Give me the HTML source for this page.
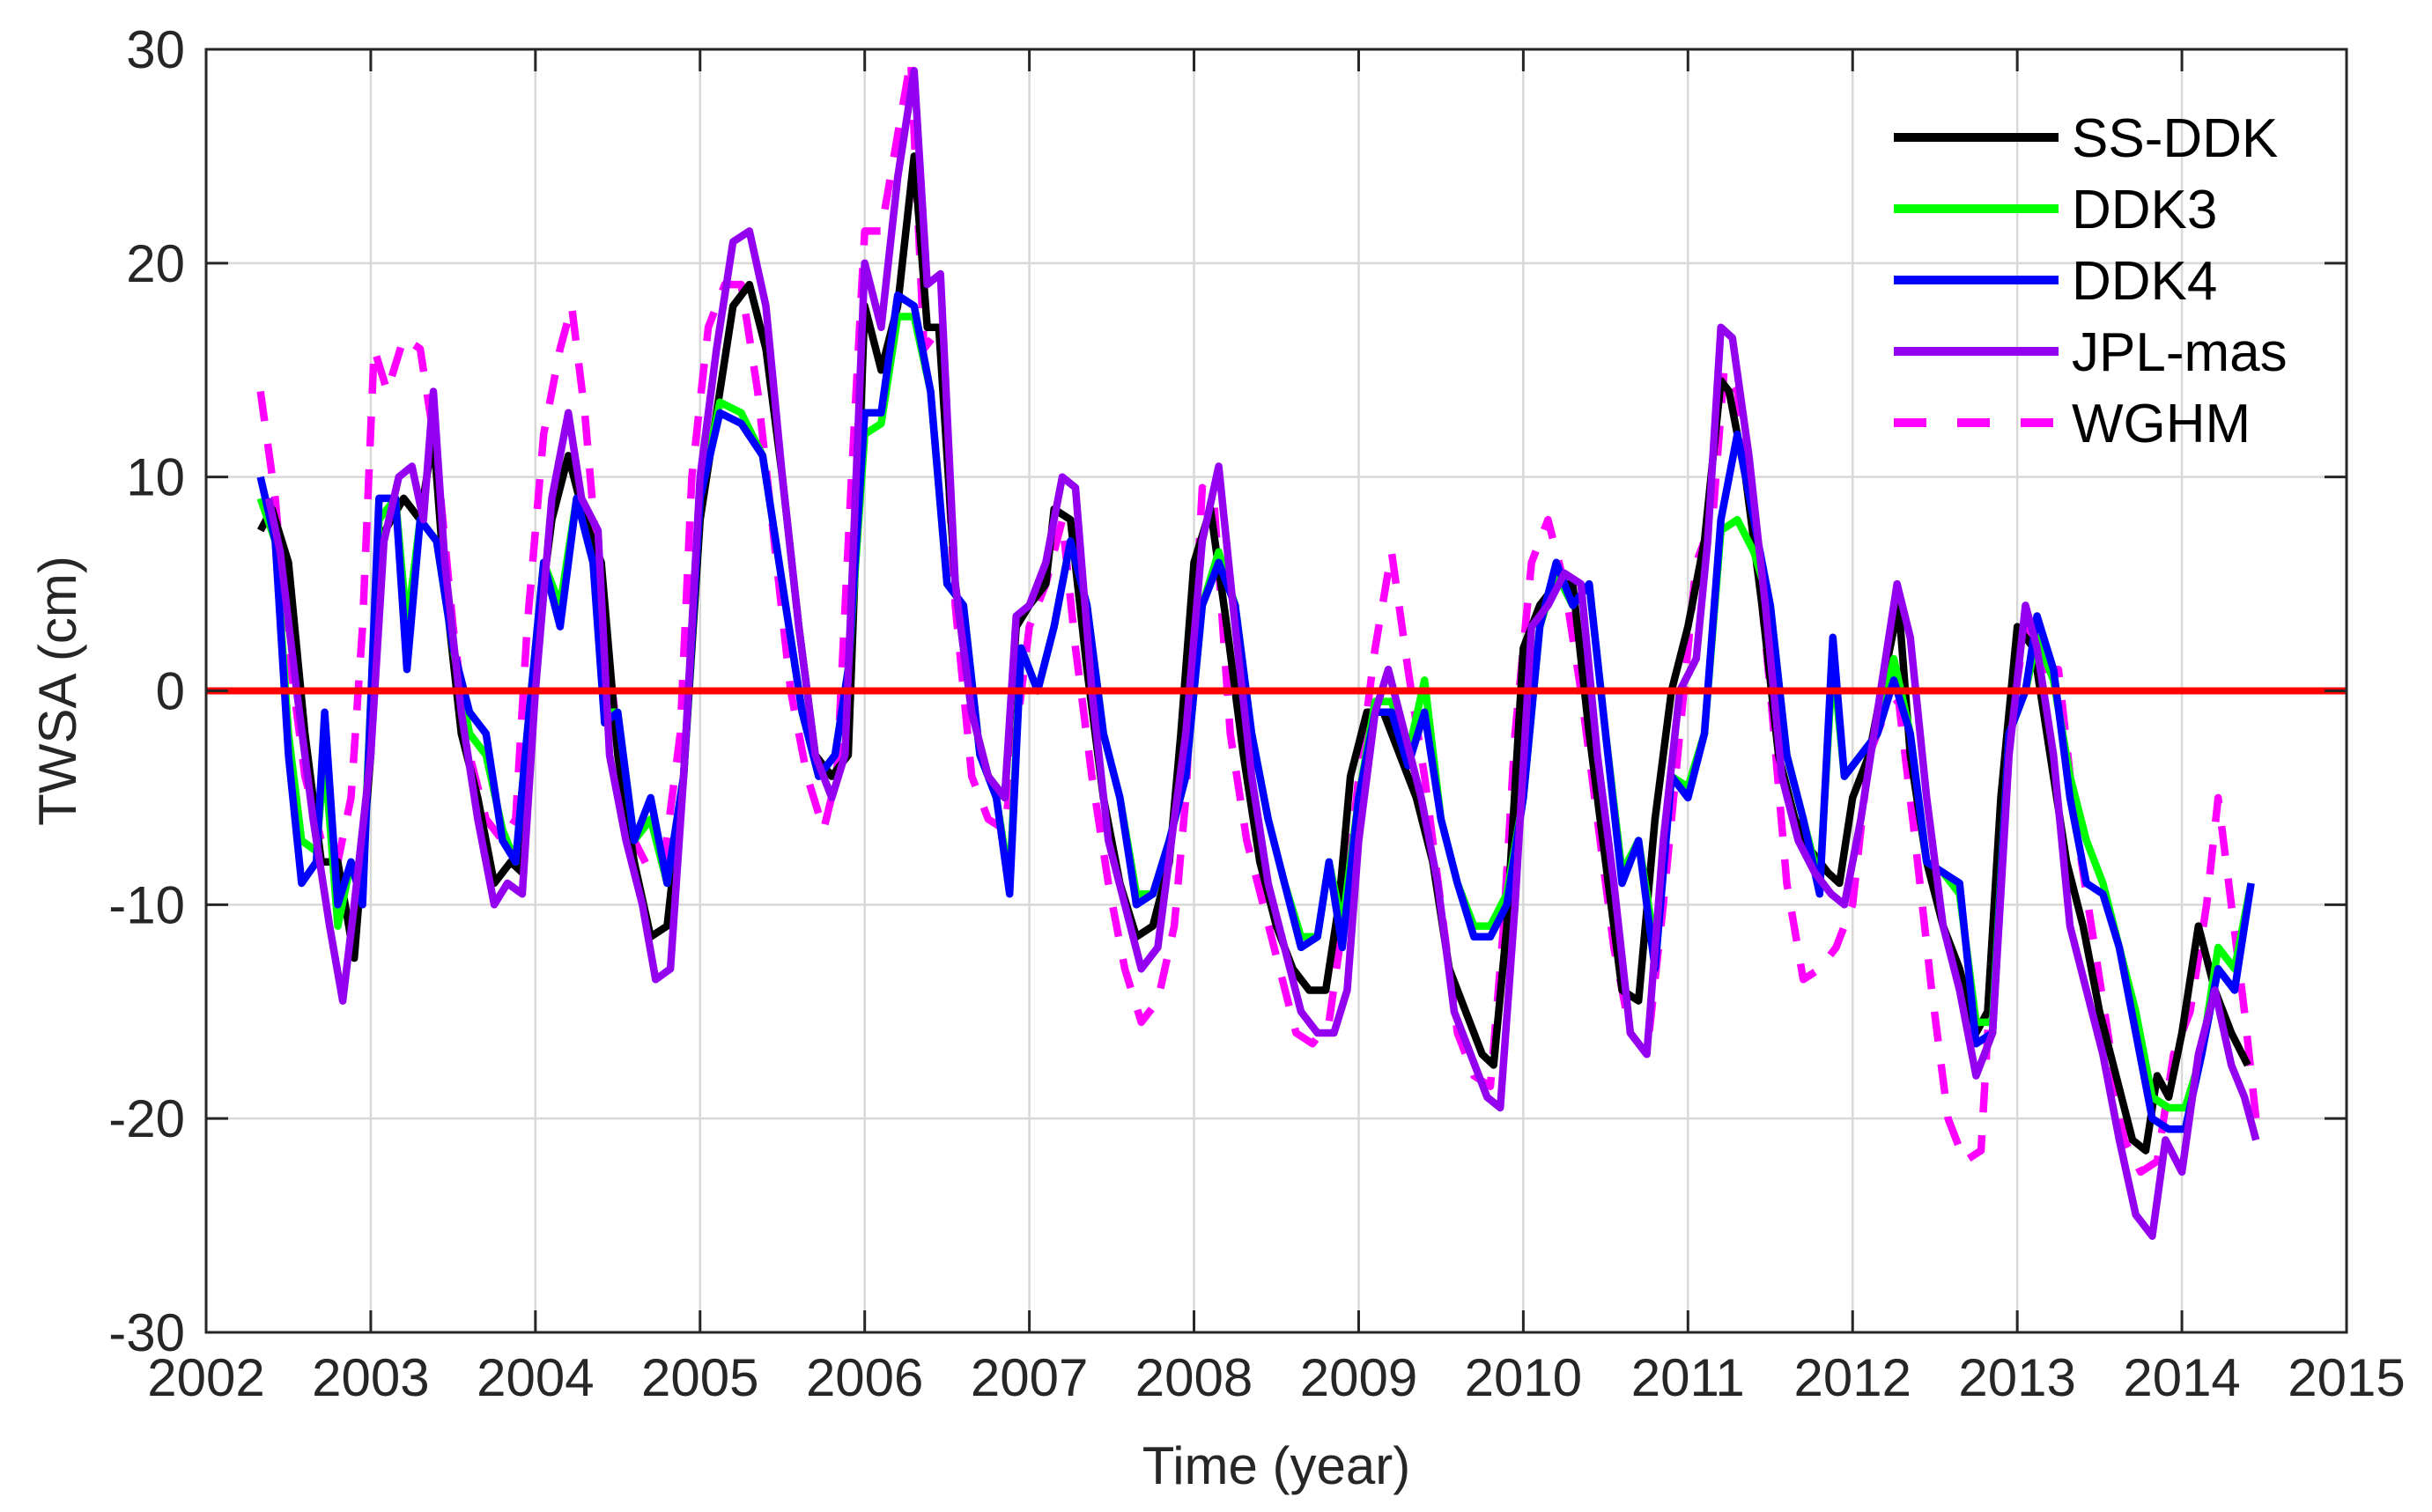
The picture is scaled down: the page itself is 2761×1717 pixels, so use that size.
<!DOCTYPE html>
<html><head><meta charset="utf-8"><style>
html,body{margin:0;padding:0;background:#fff;}
svg{display:block;font-family:"Liberation Sans",Arial,sans-serif;}
</style></head><body>
<svg id="chart" width="2761" height="1717" viewBox="0 0 2761 1717">
<g id="grid"></g>
<g id="series"></g>
<g id="axes"></g>
<g id="legend"></g>
</svg>
<script>
const xTicks=[2002,2003,2004,2005,2006,2007,2008,2009,2010,2011,2012,2013,2014,2015];
const yTicks=[-30,-20,-10,0,10,20,30];
const ssT=[2002.33,2002.4,2002.5,2002.6,2002.7,2002.8,2002.9,2003.0,2003.05,2003.2,2003.3,2003.38,2003.45,2003.55,2003.65,2003.75,2003.85,2003.92,2004.0,2004.1,2004.2,2004.3,2004.4,2004.5,2004.6,2004.7,2004.8,2004.9,2005.0,2005.1,2005.2,2005.3,2005.4,2005.5,2005.6,2005.7,2005.8,2005.9,2006.0,2006.1,2006.2,2006.3,2006.38,2006.45,2006.55,2006.65,2006.75,2006.85,2006.92,2007.0,2007.1,2007.15,2007.25,2007.35,2007.45,2007.55,2007.65,2007.75,2007.85,2007.92,2008.0,2008.1,2008.2,2008.3,2008.4,2008.5,2008.6,2008.7,2008.8,2008.88,2008.95,2009.05,2009.15,2009.25,2009.35,2009.45,2009.55,2009.65,2009.75,2009.82,2009.9,2010.0,2010.1,2010.2,2010.3,2010.4,2010.5,2010.6,2010.7,2010.8,2010.9,2011.0,2011.1,2011.2,2011.25,2011.35,2011.45,2011.55,2011.65,2011.75,2011.85,2011.92,2012.0,2012.1,2012.2,2012.28,2012.35,2012.45,2012.55,2012.65,2012.75,2012.82,2012.9,2013.0,2013.1,2013.2,2013.3,2013.4,2013.5,2013.6,2013.7,2013.78,2013.85,2013.92,2014.0,2014.1,2014.2,2014.3,2014.4];
const ssV=[7.5,8.5,6,-2,-8,-8,-12.5,-3,7,9,8,12,5,-2,-5,-9,-8,-8.5,2,8,11,8,6,-3,-8,-11.5,-11,-4,8,13,18,19,16,10,3,-3,-4,-3,18,15,18,25,17,17,5,-1,-4,-5,3,4,5,8.5,8,1,-5,-9,-11.5,-11,-8,-2,6,8.5,3,-3,-8,-11,-13,-14,-14,-10,-4,-1,-1,-3,-5,-8,-13,-15,-17,-17.5,-11,2,4,5,5,-2,-8,-14,-14.5,-6,0,3,7,14.5,14,10,4,-3,-6,-7.5,-8.5,-9,-5,-3,1,4,-3,-8,-11,-13,-16,-15,-5,3,2,-3,-8,-11,-15,-18,-21,-21.5,-18,-19,-16,-11,-14,-16,-17.5];
const d4T=[2002.33,2002.42,2002.5,2002.58,2002.67,2002.72,2002.8,2002.88,2002.95,2003.05,2003.15,2003.22,2003.3,2003.4,2003.5,2003.6,2003.7,2003.8,2003.88,2003.95,2004.05,2004.15,2004.25,2004.35,2004.42,2004.5,2004.6,2004.7,2004.8,2004.9,2005.0,2005.12,2005.25,2005.38,2005.5,2005.62,2005.72,2005.82,2005.9,2006.0,2006.1,2006.2,2006.3,2006.4,2006.5,2006.6,2006.7,2006.8,2006.88,2006.95,2007.05,2007.15,2007.25,2007.35,2007.45,2007.55,2007.65,2007.75,2007.85,2007.95,2008.05,2008.15,2008.25,2008.35,2008.45,2008.55,2008.65,2008.75,2008.82,2008.9,2009.0,2009.1,2009.2,2009.3,2009.4,2009.5,2009.6,2009.7,2009.8,2009.9,2010.0,2010.1,2010.2,2010.3,2010.4,2010.5,2010.6,2010.7,2010.8,2010.9,2011.0,2011.1,2011.2,2011.3,2011.4,2011.5,2011.6,2011.7,2011.8,2011.88,2011.95,2012.05,2012.15,2012.25,2012.35,2012.45,2012.55,2012.65,2012.75,2012.85,2012.95,2013.05,2013.12,2013.22,2013.32,2013.42,2013.52,2013.62,2013.72,2013.82,2013.92,2014.02,2014.12,2014.22,2014.32,2014.42];
const d4V=[10,7,-3,-9,-8,-1,-10,-8,-10,9,9,1,8,7,2,-1,-2,-7,-8,-2,6,3,9,6,-1.5,-1,-7,-5,-9,-4,9,13,12.5,11,5,-1,-4,-3,1,13,13,18.5,18,14,5,4,-3,-5,-9.5,2,0,3,7,4,-2,-5,-10,-9.5,-7,-4,4,6,4,-2,-6,-9,-12,-11.5,-8,-12,-5,-1,-1,-3.5,-1,-6,-9,-11.5,-11.5,-10,-5,3,6,4,5,-2,-9,-7,-13,-4,-5,-2,8,12,8,4,-3,-6,-9.5,2.5,-4,-3,-2,0.5,-2,-8,-8.5,-9,-16.5,-16,-2,0,3.5,1,-5,-9,-9.5,-12,-16,-20,-20.5,-20.5,-17,-13,-14,-9];
const d3T=d4T.slice();
const d3V=[9,7,-2,-7,-7.5,-3,-11,-8,-9,8,9,3,8,7,2,-2,-3,-6.5,-8,-2,6,4,9,6,-1,-1,-7,-6,-9,-4,9,13.5,13,11,5,-1,-4,-3,1,12,12.5,17.5,17.5,14,5,4,-3,-5,-9,2,0,3,7,4,-2,-5,-9.5,-9.5,-7,-4,4,6.5,4,-2,-6,-9,-11.5,-11.5,-8,-11,-5,-0.5,-0.5,-3,0.5,-6,-9,-11,-11,-9.5,-5,3,5.5,4,5,-2,-8.5,-7,-12,-4,-4.5,-2,7.5,8,6.5,4,-3,-6,-9,1.5,-4,-3,-2,1.5,-2,-8,-8.5,-9.5,-15.5,-15.5,-2,0,2.5,0.5,-4,-7,-9,-12,-15,-19,-19.5,-19.5,-17,-12,-13,-9];
const jpT=[2002.38,2002.45,2002.55,2002.65,2002.75,2002.83,2002.9,2003.0,2003.08,2003.17,2003.25,2003.32,2003.38,2003.45,2003.55,2003.65,2003.75,2003.83,2003.92,2004.0,2004.1,2004.2,2004.28,2004.38,2004.45,2004.55,2004.65,2004.73,2004.82,2004.9,2005.0,2005.1,2005.2,2005.3,2005.4,2005.5,2005.6,2005.7,2005.8,2005.88,2006.0,2006.1,2006.2,2006.3,2006.38,2006.46,2006.55,2006.65,2006.75,2006.85,2006.92,2007.0,2007.1,2007.2,2007.28,2007.38,2007.48,2007.58,2007.68,2007.78,2007.88,2007.95,2008.05,2008.15,2008.25,2008.35,2008.45,2008.55,2008.65,2008.75,2008.85,2008.93,2009.0,2009.1,2009.18,2009.28,2009.38,2009.48,2009.58,2009.68,2009.78,2009.86,2009.95,2010.05,2010.15,2010.25,2010.35,2010.45,2010.55,2010.65,2010.75,2010.85,2010.95,2011.05,2011.12,2011.2,2011.27,2011.37,2011.47,2011.57,2011.67,2011.77,2011.87,2011.95,2012.05,2012.15,2012.27,2012.35,2012.45,2012.55,2012.65,2012.75,2012.85,2012.95,2013.05,2013.12,2013.22,2013.32,2013.42,2013.52,2013.62,2013.72,2013.82,2013.9,2014.0,2014.1,2014.2,2014.3,2014.38,2014.45];
const jpV=[9,6.5,0,-6,-11,-14.5,-10,-3,7,10,10.5,8,14,6,-1,-6,-10,-9,-9.5,0,9,13,9,7.5,-3,-7,-10,-13.5,-13,-4,10,16,21,21.5,18,10,3,-3,-5,-3,20,17,24,29,19,19.5,5,-1,-4,-5,3.5,4,6,10,9.5,0,-7,-10,-13,-12,-6,-2,7,10.5,3,-4,-9,-12,-15,-16,-16,-14,-7,-1,1,-2,-5,-9,-15,-17,-19,-19.5,-10,3,4,5.5,5,-3,-9,-16,-17,-7,0,1.5,7,17,16.5,11,4,-4,-7,-8.5,-9.5,-10,-6,-1,5,2.5,-5,-11,-14,-18,-16,-3,4,2,-3,-11,-14,-17,-21,-24.5,-25.5,-21,-22.5,-17,-14,-17.5,-19,-21];
const wgT=[2002.33,2002.42,2002.5,2002.6,2002.7,2002.8,2002.88,2002.95,2003.02,2003.1,2003.2,2003.3,2003.4,2003.5,2003.6,2003.7,2003.8,2003.88,2003.95,2004.05,2004.15,2004.22,2004.3,2004.4,2004.5,2004.6,2004.7,2004.78,2004.88,2004.95,2005.05,2005.15,2005.25,2005.35,2005.45,2005.55,2005.65,2005.75,2005.83,2005.92,2006.0,2006.1,2006.2,2006.28,2006.36,2006.46,2006.55,2006.65,2006.75,2006.85,2006.92,2007.0,2007.1,2007.2,2007.28,2007.38,2007.48,2007.58,2007.68,2007.78,2007.88,2007.95,2008.05,2008.12,2008.22,2008.32,2008.42,2008.52,2008.62,2008.72,2008.82,2008.92,2009.0,2009.1,2009.2,2009.3,2009.4,2009.5,2009.6,2009.7,2009.8,2009.88,2009.95,2010.05,2010.15,2010.25,2010.35,2010.45,2010.55,2010.65,2010.75,2010.85,2010.95,2011.05,2011.15,2011.22,2011.3,2011.4,2011.5,2011.6,2011.7,2011.8,2011.9,2012.0,2012.1,2012.2,2012.28,2012.38,2012.48,2012.58,2012.68,2012.78,2012.88,2012.95,2013.05,2013.15,2013.25,2013.35,2013.45,2013.55,2013.65,2013.75,2013.85,2013.95,2014.05,2014.15,2014.22,2014.3,2014.38,2014.45];
const wgV=[14,9,2,-4,-7,-8,-5,3,16,14,16.5,16,11,3,-3,-6,-7,-6,3,12,16,18,13,4,-2,-7,-8.5,-8,-2,10,17,19,19,14,7,0,-4,-6.5,-4,10,21.5,21.5,26,29.5,16,17,4,-4,-6,-6.5,-2,3,5,8,2,-4,-9,-13,-15.5,-14.5,-11,-5,9.5,9,-2,-7,-10,-13,-16,-16.5,-15.5,-10,-4,2,6.5,1,-4,-10,-16,-18,-18.5,-11,-2,6,8,5,0,-6,-12,-16,-17,-10,-2,6,8,15,14,8,0,-9,-13.5,-13,-12,-10,-3,-1,-0.5,-7,-14,-20,-22,-21.5,-8,-2,3,1,1,-6,-11,-16,-21,-22.5,-22,-17,-15,-10,-5,-10,-15,-20];

const L=234,R=2664,T=56,B=1513;
const x=v=>L+(v-2002)/13*(R-L);
const y=v=>B-(v+30)/60*(B-T);
const NS="http://www.w3.org/2000/svg";
function mk(tag,parent,attrs){const e=document.createElementNS(NS,tag);for(const k in attrs)e.setAttribute(k,attrs[k]);parent.appendChild(e);return e;}
const grid=document.getElementById('grid'),axes=document.getElementById('axes'),ser=document.getElementById('series'),leg=document.getElementById('legend');
mk('rect',grid,{x:L,y:T,width:R-L,height:B-T,fill:'#fff'});
xTicks.forEach(t=>{
  const g=mk('line',grid,{x1:x(t),x2:x(t),y1:T,y2:B,stroke:'#d8d8d8','stroke-width':2.5});
  
  
  mk('line',axes,{x1:x(t),x2:x(t),y1:B,y2:B-25,stroke:'#262626','stroke-width':3});
  mk('line',axes,{x1:x(t),x2:x(t),y1:T,y2:T+25,stroke:'#262626','stroke-width':3});
  const tx=mk('text',axes,{x:x(t),y:B+72,'text-anchor':'middle','font-size':60,fill:'#262626'});
  tx.textContent=t;
  
  
});
yTicks.forEach(t=>{
  const g=mk('line',grid,{x1:L,x2:R,y1:y(t),y2:y(t),stroke:'#d8d8d8','stroke-width':2.5});
  
  
  mk('line',axes,{x1:L,x2:L+25,y1:y(t),y2:y(t),stroke:'#262626','stroke-width':3});
  mk('line',axes,{x1:R,x2:R-25,y1:y(t),y2:y(t),stroke:'#262626','stroke-width':3});
  const tx=mk('text',axes,{x:L-24,y:y(t)+21,'text-anchor':'end','font-size':60,fill:'#262626'});
  tx.textContent=t;
  
  
});
const frame=mk('rect',axes,{x:L,y:T,width:R-L,height:B-T,fill:'none',stroke:'#262626','stroke-width':3});


const xt=mk('text',axes,{x:(L+R)/2,y:1685,'text-anchor':'middle','font-size':60,fill:'#262626'});
xt.textContent='Time (year)';


const yt=mk('text',axes,{x:0,y:0,'text-anchor':'middle','font-size':60,fill:'#262626',transform:`translate(86,${(T+B)/2}) rotate(-90)`});
yt.textContent='TWSA (cm)';



function line(ts,vs,color,dash,name){
  const d=ts.map((t,i)=>(i?'L':'M')+x(t).toFixed(1)+','+y(vs[i]).toFixed(1)).join('');
  const p=mk('path',ser,{d:d,fill:'none',stroke:color,'stroke-width':8.5,'stroke-linejoin':'round'});
  if(dash)p.setAttribute('stroke-dasharray',dash);
  
  
}
line(wgT,wgV,'#ff00ff','34,26','wghm-line');
line(ssT,ssV,'#000000',null,'ss-ddk-line');
line(d3T,d3V,'#00ff00',null,'ddk3-line');
line(d4T,d4V,'#0000ff',null,'ddk4-line');
line(jpT,jpV,'#9400f0',null,'jpl-mas-line');
const zl=mk('line',ser,{x1:L,x2:R,y1:y(0),y2:y(0),stroke:'#ff0000','stroke-width':8});



const legItems=[['SS-DDK','#000',null],['DDK3','#00ff00',null],['DDK4','#0000ff',null],['JPL-mas','#9400f0',null],['WGHM','#ff00ff','37,35']];
legItems.forEach((it,i)=>{
  const yy=156+i*81;
  const l=mk('line',leg,{x1:2150,x2:2337,y1:yy,y2:yy,stroke:it[1],'stroke-width':10});
  if(it[2])l.setAttribute('stroke-dasharray',it[2]);
  
  
  const t=mk('text',leg,{x:2352,y:yy+22,'font-size':62,fill:'#000'});
  t.textContent=it[0];
  
  
});
</script>
</body></html>
